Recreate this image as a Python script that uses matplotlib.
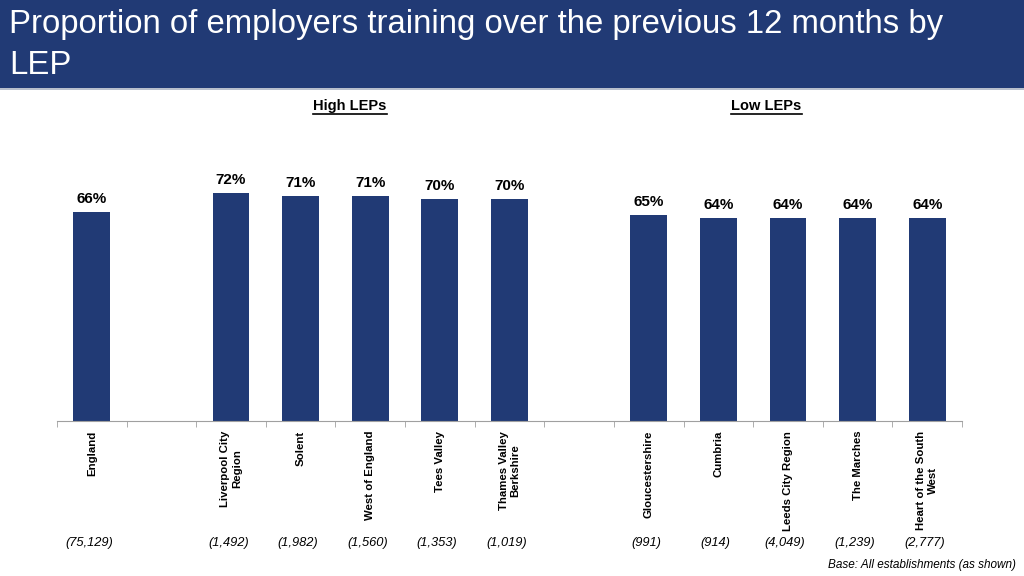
import numpy as np
import matplotlib.pyplot as plt
from matplotlib.patches import Rectangle
import matplotlib.transforms as mtransforms

# data
categories = ["England", "",
              "Liverpool City\nRegion", "Solent", "West of England", "Tees Valley", "Thames Valley\nBerkshire",
              "",
              "Gloucestershire", "Cumbria", "Leeds City Region", "The Marches", "Heart of the South\nWest"]
values = [66, np.nan, 72, 71, 71, 70, 70, np.nan, 65, 64, 64, 64, 64]
bases = ["(75,129)", "", "(1,492)", "(1,982)", "(1,560)", "(1,353)", "(1,019)", "",
         "(991)", "(914)", "(4,049)", "(1,239)", "(2,777)"]
groups = ["High LEPs", "Low LEPs"]
group_pos = [3.71, 9.69]

navy = "#213a75"
plt.rcParams['font.family'] = ['Liberation Sans', 'DejaVu Sans']

fig = plt.figure(figsize=(10.24, 5.76), dpi=100)

# title bar
fig.patches.append(Rectangle((0, 1 - 88 / 576), 1, 88 / 576, transform=fig.transFigure,
                             facecolor=navy, edgecolor="none", zorder=0))
fig.patches.append(Rectangle((0, 1 - 90 / 576), 1, 2 / 576, transform=fig.transFigure,
                             facecolor="#b8bfcc", edgecolor="none", zorder=0))
fig.text(0.009, 1 - 25 / 576, "Proportion of employers training over the previous 12 months by",
         color="white", fontsize=23.7, va="center", ha="left")
fig.text(0.009, 1 - 65 / 576, "LEP", color="white", fontsize=23.7, va="center", ha="left")

ax = fig.add_axes([57 / 1024, 155 / 576, 905 / 1024, 317 / 576])
x = np.arange(len(categories))
ax.bar(x, values, width=0.53, color=navy, zorder=2)
ax.set_xlim(-0.5, len(categories) - 0.5)
ax.set_ylim(0, 100)

for xi, v in zip(x, values):
    if not np.isnan(v):
        ax.text(xi, v + 1.8, f"{v:.0f}%", ha="center", va="bottom", fontsize=11, fontweight="bold")

for s in ["top", "right", "left"]:
    ax.spines[s].set_visible(False)
ax.spines["bottom"].set_color("#a0a0a0")
ax.set_yticks([])
ax.set_xticks(x)
ax.set_xticklabels(categories, rotation=90, fontsize=8.2, fontweight="bold",
                   va="top", ha="center", multialignment="center")
ax.tick_params(axis="x", which="major", length=0, pad=7)
ax.set_xticks(np.arange(-0.5, len(categories), 1), minor=True)
ax.tick_params(axis="x", which="minor", length=4, color="#a0a0a0")

trans = mtransforms.blended_transform_factory(ax.transData, fig.transFigure)
for xi, b in zip(x, bases):
    ax.text(xi - 0.04, 1 - 543 / 576, b, transform=trans, ha="center", va="center",
            fontsize=9.3, style="italic")

# group headings, underlined
renderer = fig.canvas.get_renderer()
for g, gx in zip(groups, group_pos):
    t = ax.text(gx, 1 - 106 / 576, g, transform=trans, ha="center", va="center",
                fontsize=10.5, fontweight="bold")
    bb = t.get_window_extent(renderer=renderer)
    y0 = bb.y0 - 0.5
    fig.add_artist(plt.Line2D([bb.x0 / 1024, bb.x1 / 1024], [y0 / 576, y0 / 576],
                              transform=fig.transFigure, color="black", linewidth=1.2))

fig.text(0.992, 1 - 565 / 576, "Base: All establishments (as shown)", ha="right", va="center",
         fontsize=8.5, style="italic")

fig.savefig("out.png", dpi=100)
